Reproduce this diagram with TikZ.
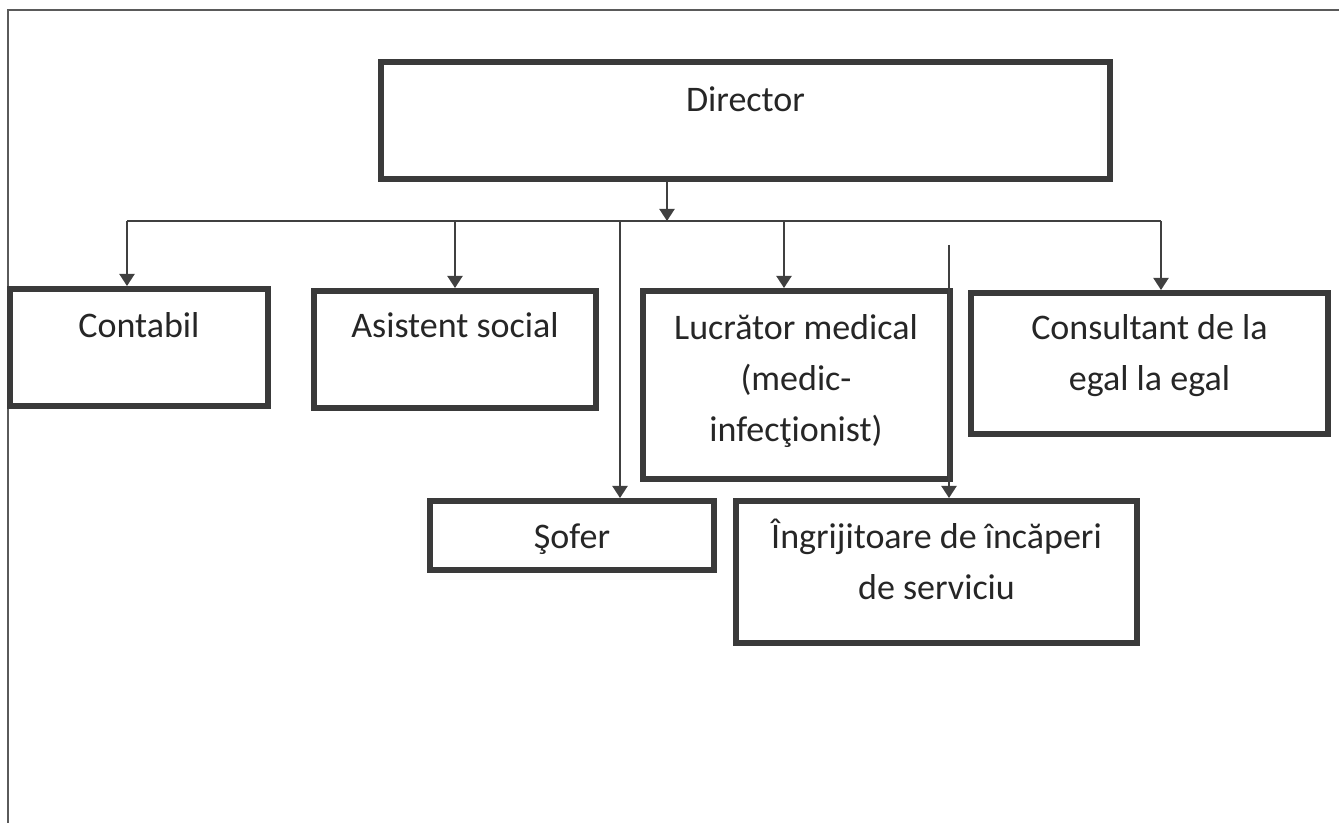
\documentclass[tikz,border=0pt]{standalone}
\usepackage{fontspec}
\setmainfont{Carlito}
\usetikzlibrary{arrows.meta}
\definecolor{boxc}{HTML}{3A3A3A}
\definecolor{linec}{HTML}{404040}
\definecolor{txtc}{HTML}{262626}
\definecolor{framec}{HTML}{5A5A5A}
\begin{document}
\begin{tikzpicture}[x=0.5pt,y=-0.5pt,
  box/.style={draw=boxc, line width=3pt, inner sep=0pt, fill=white},
  lbl/.style={text=txtc, font=\fontsize{18}{25.5}\selectfont, align=center, anchor=north, inner sep=0pt, outer sep=0pt},
  conn/.style={draw=linec, line width=1pt},
  arr/.style={conn, -{Triangle[width=7.5pt,length=6pt]}},
  frame/.style={draw=framec, line width=1pt}]
\useasboundingbox (0,0) rectangle (1339,823);
\fill[white] (0,0) rectangle (1339,823);
% outer frame (left and top edges)
\coordinate (fBL) at (8,823);
\coordinate (fTL) at (8,10);
\coordinate (fTR) at (1339,10);
\draw[frame] (fBL) -- (fTL) -- (fTR);

% boxes
\node[box, minimum width=364.5pt, minimum height=58.5pt] (dir) at (745.5,120.5) {};
\node[box, minimum width=129pt, minimum height=58.5pt] (con) at (139,347.5) {};
\node[box, minimum width=141pt, minimum height=58.5pt] (asi) at (455,349.5) {};
\node[box, minimum width=153.5pt, minimum height=94pt] (luc) at (796.5,385) {};
\node[box, minimum width=178.5pt, minimum height=70.5pt] (cons) at (1149.5,363.5) {};
\node[box, minimum width=142pt, minimum height=34.5pt] (sof) at (572,535.5) {};
\node[box, minimum width=200.5pt, minimum height=71pt] (ingr) at (936.5,572) {};

% labels
\node[lbl] (tdir) at (745.5,76.3) {\strut Director};
\node[lbl] (tcon) at (139,302.3) {\strut Contabil};
\node[lbl] (tasi) at (455,302.3) {\strut Asistent social};
\node[lbl] (tluc) at (796,304.3) {\strut Lucrător medical\\(medic-\\infecţionist)};
\node[lbl] (tcons) at (1149.5,304.3) {\strut Consultant de la\\egal la egal};
\node[lbl] (tsof) at (572,512.3) {\strut Şofer};
\node[lbl] (tingr) at (936.5,512.3) {\strut Îngrijitoare de încăperi\\de serviciu};

% connectors
\coordinate (b0) at (667,221);
\coordinate (bL) at (127,221);
\coordinate (bR) at (1161,221);
\coordinate (b2) at (455,221);
\coordinate (b3) at (620,221);
\coordinate (b4) at (784,221);
\coordinate (ist) at (949,245);
\draw[arr] (dir.south -| b0) -- (b0);
\draw[conn] (bL) -- (bR);
\draw[arr] (bL) -- (bL |- con.north);
\draw[arr] (b2) -- (b2 |- asi.north);
\draw[arr] (b3) -- (b3 |- sof.north);
\draw[arr] (b4) -- (b4 |- luc.north);
\draw[arr] (bR) -- (bR |- cons.north);
\draw[arr] (ist) -- (ist |- ingr.north);
\end{tikzpicture}
\end{document}
